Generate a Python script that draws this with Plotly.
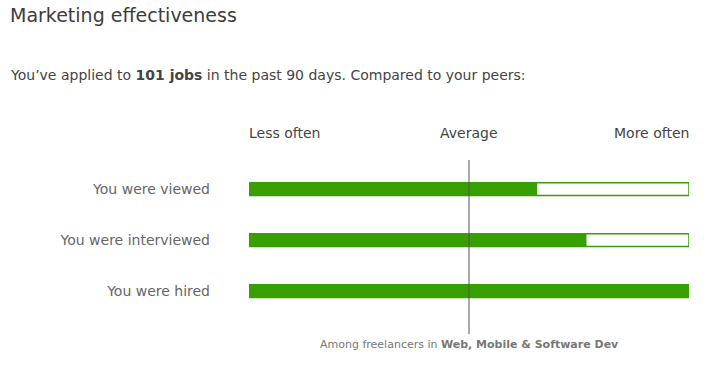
import plotly.graph_objects as go

categories = ["You were viewed", "You were interviewed", "You were hired"]
scores = [65.5, 76.7, 100]
scale_max = [100, 100, 100]
average = 50
scale_labels = ["Less often", "Average", "More often"]
scale_positions = [0, 50, 100]

GREEN = "#37a000"
FONT = "DejaVu Sans, Open Sans, sans-serif"

fig = go.Figure()
fig.add_trace(go.Bar(
    x=scale_max, y=categories, orientation="h",
    marker=dict(color="white", line=dict(color=GREEN, width=1.5)),
    width=0.25, hoverinfo="skip", showlegend=False,
))
fig.add_trace(go.Bar(
    x=scores, y=categories, orientation="h",
    marker=dict(color=GREEN, line=dict(width=0)),
    width=0.25, showlegend=False,
))

fig.add_shape(type="line", xref="x", yref="paper", x0=average, x1=average,
              y0=0, y1=1, line=dict(color="#555", width=1), layer="above")

anchors = ["left", "center", "right"]
shifts = [-2, 0, 2]
for lab, pos, anc, sh in zip(scale_labels, scale_positions, anchors, shifts):
    fig.add_annotation(x=pos, y=1, xref="x", yref="paper", yshift=27, xshift=sh,
                       text=lab, showarrow=False, xanchor=anc, yanchor="middle",
                       font=dict(family=FONT, size=14, color="#444"))

fig.add_annotation(x=average, y=0, xref="x", yref="paper", yshift=-10,
                   text="Among freelancers in <b>Web, Mobile &amp; Software Dev</b>",
                   showarrow=False, xanchor="center", yanchor="middle",
                   font=dict(family=FONT, size=11, color="#777"))

plot_h = 365 - 160 - 31
plot_w = 708 - 249 - 19
def px_x(p):
    return (p - 249) / plot_w
def px_y(p):
    return (365 - 31 - p) / plot_h

fig.add_annotation(x=px_x(8), y=px_y(15), xref="paper", yref="paper",
                   text="Marketing effectiveness", showarrow=False,
                   xanchor="left", yanchor="middle",
                   font=dict(family=FONT, size=19, color="#3c3c3c"))
fig.add_annotation(x=px_x(8), y=px_y(75), xref="paper", yref="paper",
                   text="You’ve applied to <b>101 jobs</b> in the past 90 days. Compared to your peers:",
                   showarrow=False, xanchor="left", yanchor="middle",
                   font=dict(family=FONT, size=14, color="#444"))

fig.update_layout(
    width=708, height=365,
    margin=dict(l=249, r=19, t=160, b=31),
    paper_bgcolor="white", plot_bgcolor="white",
    barmode="overlay",
    font=dict(family=FONT),
    xaxis=dict(range=[0, 100], visible=False, fixedrange=True),
    yaxis=dict(type="category", range=[2.843, -0.569], showgrid=False,
               zeroline=False, showline=False, ticks="",
               ticklabelstandoff=38,
               tickfont=dict(family=FONT, size=14, color="#666")),
)

fig.write_html("out.html")
